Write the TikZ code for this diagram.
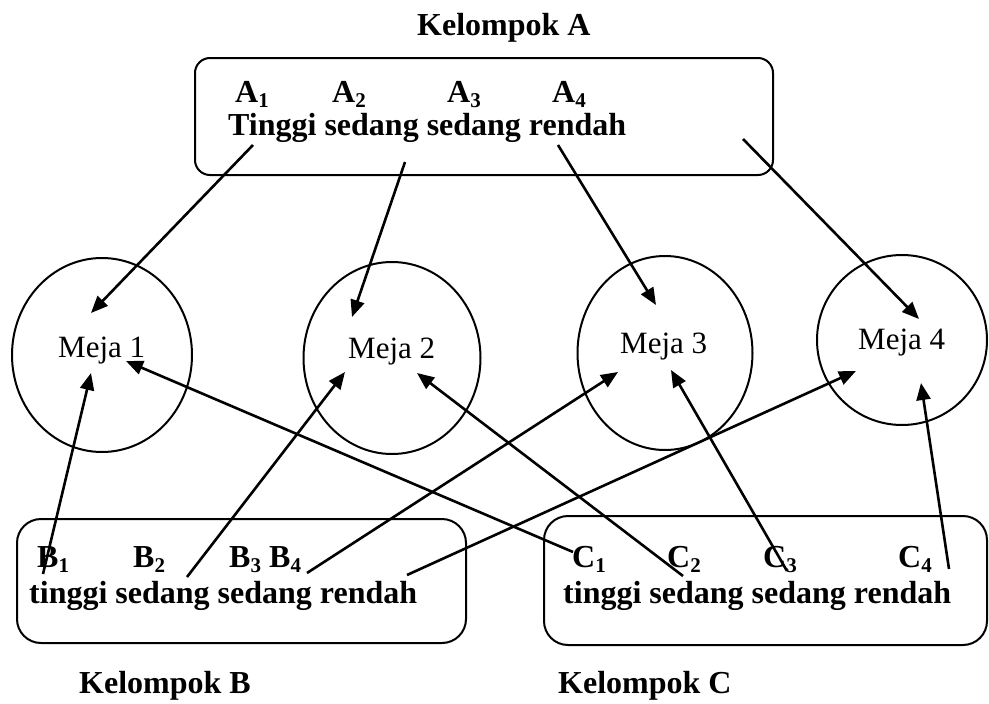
\documentclass[tikz,border=0pt]{standalone}
\usepackage{fontspec}
\setmainfont{Liberation Serif}
\usetikzlibrary{arrows.meta,shapes.geometric}

% subscript index used in the group labels
\newcommand{\idx}[1]{\raisebox{-0.17em}{\fontsize{21}{21}\selectfont #1}}

\tikzset{
  grpbox/.style={draw, line width=2pt, rounded corners=#1, inner sep=0pt},
  meja/.style={draw, ellipse, line width=2pt, inner sep=0pt},
  grptext/.style={anchor=base west, inner sep=0pt, font=\fontsize{32}{36}\selectfont\bfseries},
  mejatext/.style={anchor=base west, inner sep=0pt, font=\fontsize{31}{36}\selectfont},
  link/.style={line width=2.6pt, -{Triangle[length=17pt,width=14pt]}}
}

\begin{document}
\begin{tikzpicture}[x=1pt,y=-1pt]
\useasboundingbox (0,0) rectangle (989,704);

% group boxes
\node[grpbox=15pt, minimum width=578pt, minimum height=117pt] (boxA) at (484,116.5) {};
\node[grpbox=24pt, minimum width=449pt, minimum height=124pt] (boxB) at (241.5,581) {};
\node[grpbox=24pt, minimum width=443pt, minimum height=129pt] (boxC) at (765.5,580.5) {};

% tables
\node[meja, minimum width=180pt, minimum height=194pt] (m1) at (102,355) {};
\node[meja, minimum width=177pt, minimum height=192pt] (m2) at (392,358) {};
\node[meja, minimum width=175pt, minimum height=194pt] (m3) at (665,353) {};
\node[meja, minimum width=170pt, minimum height=170pt] (m4) at (902,340) {};
\node[mejatext] (tm1) at (58,357) {Meja 1};
\node[mejatext] (tm2) at (348,358) {Meja 2};
\node[mejatext] (tm3) at (620,353) {Meja 3};
\node[mejatext] (tm4) at (858,349) {Meja 4};

% group titles
\node[grptext] (titleA) at (417,35) {Kelompok A};
\node[grptext] (titleB) at (79,693) {Kelompok B};
\node[grptext] (titleC) at (558,693) {Kelompok C};

% group A contents
\node[grptext] (la1) at (235,102) {A\idx{1}};
\node[grptext] (la2) at (332,102) {A\idx{2}};
\node[grptext] (la3) at (447,102) {A\idx{3}};
\node[grptext] (la4) at (552,102) {A\idx{4}};
\node[grptext] (txA) at (228,135) {Tinggi sedang sedang rendah};

% group B contents
\node[grptext] (lb1) at (37,567) {B\idx{1}};
\node[grptext] (lb2) at (133,567) {B\idx{2}};
\node[grptext] (lb3) at (229,567) {B\idx{3}};
\node[grptext] (lb4) at (269,567) {B\idx{4}};
\node[grptext] (txB) at (29,603) {tinggi sedang sedang rendah};

% group C contents
\node[grptext] (lc1) at (572,567) {C\idx{1}};
\node[grptext] (lc2) at (667,567) {C\idx{2}};
\node[grptext] (lc3) at (763,567) {C\idx{3}};
\node[grptext] (lc4) at (898,567) {C\idx{4}};
\node[grptext] (txC) at (563,603) {tinggi sedang sedang rendah};

% arrow start points inside the group boxes
\coordinate (sa1) at (253,145);
\coordinate (sa2) at (405,162);
\coordinate (sa3) at (558,145);
\coordinate (sa4) at (743,139);
\coordinate (sb1) at (43,574);
\coordinate (sb2) at (187,577);
\coordinate (sb3) at (307,573);
\coordinate (sb4) at (407,575);
\coordinate (sc1) at (573,552);
\coordinate (sc2) at (683,576);
\coordinate (sc3) at (787,571);
\coordinate (sc4) at (949,569);

% arrow end points inside the tables
\coordinate (ea1) at (91,313);
\coordinate (ea2) at (352,317);
\coordinate (ea3) at (656,305);
\coordinate (ea4) at (919,319);
\coordinate (eb1) at (91,373);
\coordinate (eb2) at (345,372);
\coordinate (eb3) at (618,372);
\coordinate (eb4) at (856,371);
\coordinate (ec1) at (126,361);
\coordinate (ec2) at (417,373);
\coordinate (ec3) at (671,370);
\coordinate (ec4) at (921,383);

% assignments
\draw[link] (sa1) -- (ea1);
\draw[link] (sa2) -- (ea2);
\draw[link] (sa3) -- (ea3);
\draw[link] (sa4) -- (ea4);
\draw[link] (sb1) -- (eb1);
\draw[link] (sb2) -- (eb2);
\draw[link] (sb3) -- (eb3);
\draw[link] (sb4) -- (eb4);
\draw[link] (sc1) -- (ec1);
\draw[link] (sc2) -- (ec2);
\draw[link] (sc3) -- (ec3);
\draw[link] (sc4) -- (ec4);
\end{tikzpicture}
\end{document}
